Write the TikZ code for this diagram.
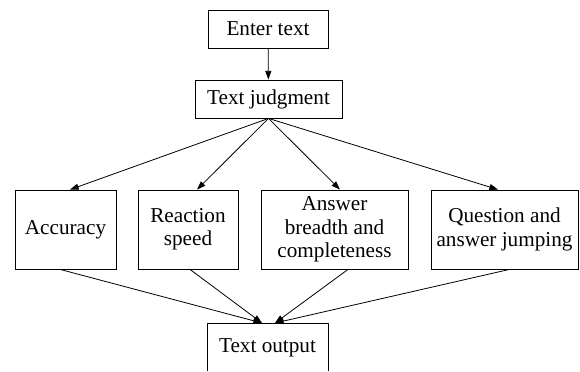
\documentclass[tikz,border=0pt]{standalone}
\usepackage{fontspec}
\setmainfont{Liberation Serif}
\usetikzlibrary{arrows.meta,calc}
\begin{document}
\begin{tikzpicture}[x=0.75pt,y=-0.75pt,
  box/.style={draw,line width=0.6pt,inner sep=0pt,align=center,
    font=\fontsize{15.9}{17.5}\selectfont},
  conn/.style={line width=0.6pt,-{Triangle[length=6.5pt,width=4.5pt]}}]
\useasboundingbox (0,0) rectangle (580,371);
\node[box,minimum width=120*0.75pt,minimum height=38*0.75pt] (enter) at (268,29) {Enter text};
\node[box,minimum width=147*0.75pt,minimum height=38*0.75pt] (judge) at (268.5,99) {Text judgment};
\node[box,minimum width=101*0.75pt,minimum height=79*0.75pt] (acc) at (65.5,229.5) {Accuracy};
\node[box,minimum width=100*0.75pt,minimum height=79*0.75pt] (rs) at (188,229.5) {Reaction\\speed};
\node[box,minimum width=147*0.75pt,minimum height=79*0.75pt] (ans) at (334.5,229.5) {Answer\\breadth and\\completeness};
\node[box,minimum width=147*0.75pt,minimum height=79*0.75pt] (qa) at (504.5,229.5) {Question and\\answer jumping};
\node[box,draw=none,outer sep=0pt,minimum width=121*0.75pt,minimum height=50*0.75pt] (out) at (267.5,348) {Text output};
\coordinate (bottom) at (0,371);
\draw[line width=0.6pt] (out.north west |- bottom) -- (out.north west) -- (out.north east) -- (out.north east |- bottom);
\draw[conn] (enter) -- (judge);
\draw[conn] (judge.south) -- ($(acc.north)+(4.5,0)$);
\draw[conn] (judge.south) -- ($(rs.north)+(9,0)$);
\draw[conn] (judge.south) -- ($(ans.north)+(5.5,0)$);
\draw[conn] (judge.south) -- ($(qa.north)+(-6.5,0)$);
\draw[conn] ($(acc.south)+(-5.5,0)$) -- ($(out.north)+(-5.5,0)$);
\draw[conn] ($(rs.south)+(2,0)$) -- ($(out.north)+(-5.5,0)$);
\draw[conn] ($(ans.south)+(13.5,0)$) -- ($(out.north)+(7.5,0)$);
\draw[conn] ($(qa.south)+(5,0)$) -- ($(out.north)+(7.5,0)$);
\end{tikzpicture}
\end{document}
